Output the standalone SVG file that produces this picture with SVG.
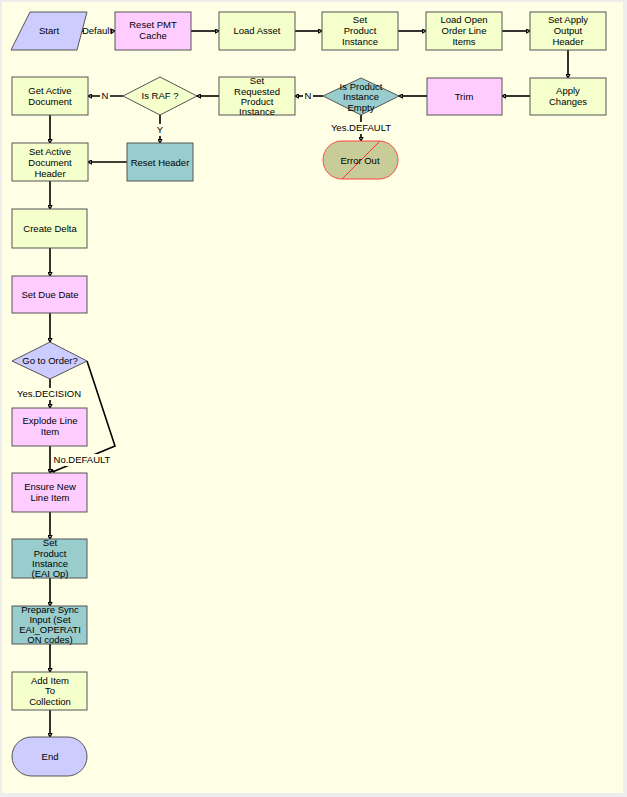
<svg xmlns="http://www.w3.org/2000/svg" width="627" height="797" viewBox="0 0 627 797">
<defs>
<style>
.n{stroke:#555;stroke-width:1}
.y{fill:#F4FFCC}
.p{fill:#FFCCFF}
.t{fill:#99CCCC}
.b{fill:#CCCCFF}
text{font-family:"Liberation Sans",Arial,sans-serif;font-size:9.5px;fill:#000;text-anchor:middle}
.c{stroke:#000;stroke-width:1.6;fill:none;marker-end:url(#ah)}
.lb{fill:#FFFFE6}
</style>
<marker id="ah" viewBox="0 0 8 8" refX="7" refY="4" markerWidth="5" markerHeight="5" orient="auto" markerUnits="userSpaceOnUse">
<path d="M1,1 L7,4 L1,7 Z" fill="#fff" stroke="#000" stroke-width="2"/>
</marker>
</defs>
<rect x="0" y="0" width="627" height="797" fill="#EDEDED"/>
<rect x="2" y="2" width="621" height="791" fill="#FFFFE6"/>

<g id="connectors">
<path class="c" d="M82,31 H115"/>
<path class="c" d="M191,31 H219"/>
<path class="c" d="M295,31 H322"/>
<path class="c" d="M398,31 H426"/>
<path class="c" d="M502,31 H530"/>
<path class="c" d="M568,50 V78"/>
<path class="c" d="M530,96 H502"/>
<path class="c" d="M427,96 H399"/>
<path class="c" d="M323,96 H295"/>
<path class="c" d="M361,115 V141"/>
<path class="c" d="M219,96 H197"/>
<path class="c" d="M123,96 H88"/>
<path class="c" d="M160,115 V143"/>
<path class="c" d="M127,162 H88"/>
<path class="c" d="M50,115 V143"/>
<path class="c" d="M50,181 V209"/>
<path class="c" d="M50,248 V276"/>
<path class="c" d="M50,313 V342"/>
<path class="c" d="M50,379 V408"/>
<path class="c" d="M87,361 L115,446 L50,473"/>
<path class="c" d="M50,446 V473"/>
<path class="c" d="M50,512 V539"/>
<path class="c" d="M50,578 V606"/>
<path class="c" d="M50,644 V672"/>
<path class="c" d="M50,710 V737"/>
<rect class="lb" x="84" y="25" width="27" height="12"/>
<text x="97" y="34">Default</text>
<rect class="lb" x="303" y="90" width="10" height="12"/>
<text x="308" y="99">N</text>
<rect class="lb" x="334" y="122" width="54" height="12"/>
<text x="361" y="131">Yes.DEFAULT</text>
<rect class="lb" x="100" y="90" width="10" height="12"/>
<text x="105" y="99">N</text>
<rect class="lb" x="155" y="124" width="10" height="12"/>
<text x="160" y="133">Y</text>
<rect class="lb" x="20" y="388" width="58" height="12"/>
<text x="49" y="397">Yes.DECISION</text>
<rect class="lb" x="57" y="454" width="50" height="12"/>
<text x="82" y="463">No.DEFAULT</text>
</g>

<g id="start"><path class="n b" d="M30,12 H87 L77,50 H11 Z"/><text x="49" y="34">Start</text></g>
<g id="reset-pmt-cache"><rect class="n p" x="115" y="12" width="76" height="38"/><text x="153" y="28">Reset PMT</text><text x="153" y="39">Cache</text></g>
<g id="load-asset"><rect class="n y" x="219" y="12" width="76" height="38"/><text x="257" y="34">Load Asset</text></g>
<g id="set-product-instance"><rect class="n y" x="322" y="12" width="76" height="38"/><text x="360" y="23">Set</text><text x="360" y="34">Product</text><text x="360" y="45">Instance</text></g>
<g id="load-open-order-line-items"><rect class="n y" x="426" y="12" width="76" height="38"/><text x="464" y="23">Load Open</text><text x="464" y="34">Order Line</text><text x="464" y="45">Items</text></g>
<g id="set-apply-output-header"><rect class="n y" x="530" y="12" width="76" height="38"/><text x="568" y="23">Set Apply</text><text x="568" y="34">Output</text><text x="568" y="45">Header</text></g>
<g id="apply-changes"><rect class="n y" x="530" y="78" width="76" height="37"/><text x="568" y="94">Apply</text><text x="568" y="105">Changes</text></g>
<g id="trim"><rect class="n p" x="427" y="78" width="75" height="37"/><text x="464" y="100">Trim</text></g>
<g id="is-product-instance-empty"><path class="n t" d="M361,78 L399,96 L361,115 L323,96 Z"/><text x="361" y="90">Is Product</text><text x="361" y="100">Instance</text><text x="361" y="111">Empty</text></g>
<g id="error-out"><rect x="323" y="141" width="75" height="38" rx="19" fill="#C8CC99" stroke="#FF4444" stroke-width="1"/><line x1="342" y1="179" x2="380" y2="141" stroke="#FF3333" stroke-width="1"/><text x="360" y="164">Error Out</text></g>
<g id="set-requested-product-instance"><rect class="n y" x="219" y="77" width="76" height="38"/><text x="257" y="84">Set</text><text x="257" y="95">Requested</text><text x="257" y="105">Product</text><text x="257" y="115">Instance</text></g>
<g id="is-raf"><path class="n y" d="M160,77 L197,96 L160,115 L123,96 Z"/><text x="160" y="99">Is RAF ?</text></g>
<g id="get-active-document"><rect class="n y" x="12" y="77" width="76" height="38"/><text x="50" y="94">Get Active</text><text x="50" y="105">Document</text></g>
<g id="reset-header"><rect class="n t" x="127" y="143" width="66" height="38"/><text x="160" y="166">Reset Header</text></g>
<g id="set-active-document-header"><rect class="n y" x="12" y="143" width="76" height="38"/><text x="50" y="155">Set Active</text><text x="50" y="166">Document</text><text x="50" y="177">Header</text></g>
<g id="create-delta"><rect class="n y" x="12" y="209" width="75" height="39"/><text x="50" y="232">Create Delta</text></g>
<g id="set-due-date"><rect class="n p" x="12" y="276" width="75" height="37"/><text x="50" y="298">Set Due Date</text></g>
<g id="go-to-order"><path class="n b" d="M50,342 L87,361 L50,379 L12,361 Z"/><text x="50" y="364">Go to Order?</text></g>
<g id="explode-line-item"><rect class="n p" x="12" y="408" width="75" height="38"/><text x="50" y="424">Explode Line</text><text x="50" y="435">Item</text></g>
<g id="ensure-new-line-item"><rect class="n p" x="12" y="473" width="75" height="39"/><text x="50" y="490">Ensure New</text><text x="50" y="501">Line Item</text></g>
<g id="set-product-instance-eai-op"><rect class="n t" x="12" y="539" width="75" height="39"/><text x="50" y="546">Set</text><text x="50" y="557">Product</text><text x="50" y="567">Instance</text><text x="50" y="577">(EAI Op)</text></g>
<g id="prepare-sync-input"><rect class="n t" x="12" y="606" width="75" height="38"/><text x="50" y="613">Prepare Sync</text><text x="50" y="623">Input (Set</text><text x="50" y="633">EAI_OPERATI</text><text x="50" y="643">ON codes)</text></g>
<g id="add-item-to-collection"><rect class="n y" x="12" y="672" width="75" height="38"/><text x="50" y="684">Add Item</text><text x="50" y="694">To</text><text x="50" y="705">Collection</text></g>
<g id="end"><rect class="n b" x="12" y="737" width="75" height="39" rx="19.5"/><text x="50" y="760">End</text></g>
</svg>
